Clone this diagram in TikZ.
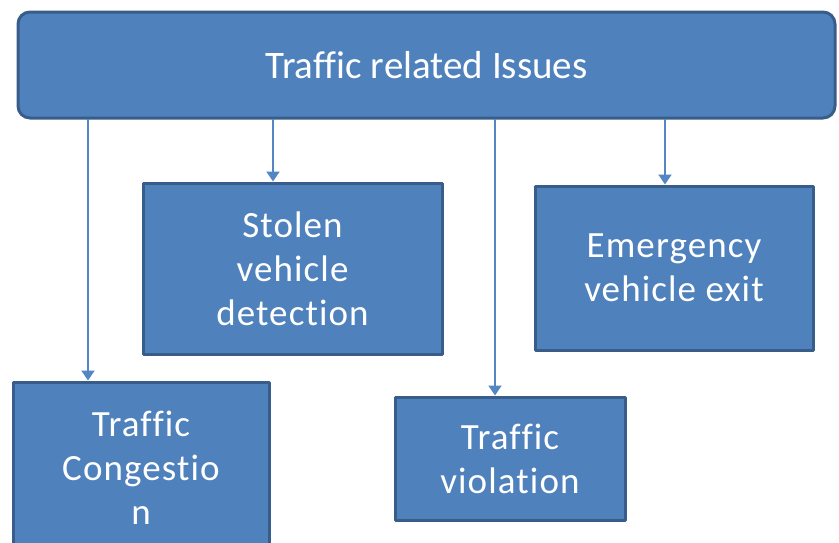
\documentclass[tikz,border=0pt]{standalone}
\usepackage{fontspec}
\setmainfont[Ligatures=NoCommon]{Carlito}
\usetikzlibrary{arrows.meta, positioning}
\definecolor{boxfill}{RGB}{79,129,189}
\definecolor{boxline}{RGB}{56,93,138}
\definecolor{arrowblue}{RGB}{84,134,196}

\begin{document}
\begin{tikzpicture}[x=1pt,y=-1pt,line cap=round,line join=round,
    issuebox/.style={draw=boxline, fill=boxfill, line width=3pt, text=white,
      align=center, inner sep=0pt,
      font=\fontsize{37}{44}\selectfont\addfontfeatures{LetterSpace=3}},
    link/.style={-{Triangle[length=10pt, width=13pt]}, draw=arrowblue, line width=2pt}]

    \clip (0,0) rectangle (839,542);

    % Top box
    \node[issuebox, rounded corners=12pt, minimum width=817pt, minimum height=106pt,
      font=\fontsize{39}{44}\selectfont] (issues) at (426.5,65) {Traffic related Issues};

    % Issue boxes
    \node[issuebox, minimum width=299pt, minimum height=171pt] (stolen) at (292.5,268.5) {Stolen\\vehicle\\detection};
    \node[issuebox, minimum width=278pt, minimum height=164pt] (emergency) at (674,268) {Emergency\\vehicle exit};
    \node[issuebox, minimum width=256pt, minimum height=172pt] (congestion) at (141,468) {Traffic\\Congestio\\n};
    \node[issuebox, minimum width=230pt, minimum height=123pt] (violation) at (510,458.5) {Traffic\\violation};

    % Arrows from the top box
    \draw[link] ([xshift=-53pt]congestion.north |- issues.south) -- ([xshift=-53pt]congestion.north); % issues -> congestion
    \draw[link] ([xshift=-19.5pt]stolen.north |- issues.south) -- ([xshift=-19.5pt]stolen.north); % issues -> stolen
    \draw[link] ([xshift=-15pt]violation.north |- issues.south) -- ([xshift=-15pt]violation.north); % issues -> violation
    \draw[link] ([xshift=-9pt]emergency.north |- issues.south) -- ([xshift=-9pt]emergency.north); % issues -> emergency

\end{tikzpicture}
\end{document}
